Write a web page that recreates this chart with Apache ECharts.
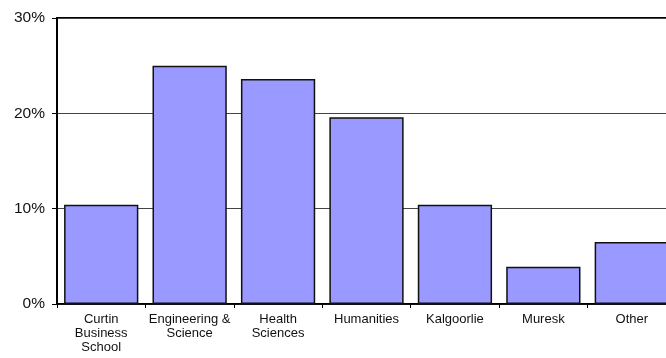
<!DOCTYPE html>
<html><head><meta charset="utf-8">
<script src="https://cdn.jsdelivr.net/npm/echarts@6/dist/echarts.min.js"></script>
<style>html,body{margin:0;padding:0;background:#fff}#c{width:666px;height:358px}</style>
</head><body><div id="c"></div>
<script>
const categories = ["Curtin\nBusiness\nSchool", "Engineering &\nScience", "Health\nSciences", "Humanities", "Kalgoorlie", "Muresk", "Other"];
const values = [10.4, 25.0, 23.6, 19.6, 10.4, 3.9, 6.5];
const yTicks = [0, 10, 20, 30];

const chart = echarts.init(document.getElementById('c'), null, {renderer: 'canvas'});
chart.setOption({
  animation: false,
  textStyle: {fontFamily: 'Liberation Sans, Arial, sans-serif'},
  grid: {left: 57, width: 619, top: 18, bottom: 54, outerBoundsMode: 'none', containLabel: false, show: true, borderColor: '#000', borderWidth: 2, backgroundColor: 'transparent'},
  xAxis: {
    type: 'category', data: categories,
    axisLine: {lineStyle: {color: '#000', width: 1.5}},
    axisTick: {show: true, length: 4, lineStyle: {color: '#000'}},
    axisLabel: {color: '#111', fontSize: 13, lineHeight: 14, margin: 8, interval: 0, fontFamily: 'Liberation Sans, Arial, sans-serif'}
  },
  yAxis: {
    type: 'value', min: yTicks[0], max: yTicks[yTicks.length - 1], interval: 10,
    axisLine: {show: true, lineStyle: {color: '#000', width: 2}},
    axisTick: {show: true, length: 5, lineStyle: {color: '#000'}},
    axisLabel: {formatter: '{value}%', color: '#111', fontSize: 15.5, margin: 12, fontFamily: 'Liberation Sans, Arial, sans-serif'},
    splitLine: {lineStyle: {color: '#444', width: 1}}
  },
  series: [{
    type: 'bar', data: values, barCategoryGap: '16%',
    itemStyle: {color: '#9999FF', borderColor: '#111', borderWidth: 1.5}
  }]
});
</script></body></html>
